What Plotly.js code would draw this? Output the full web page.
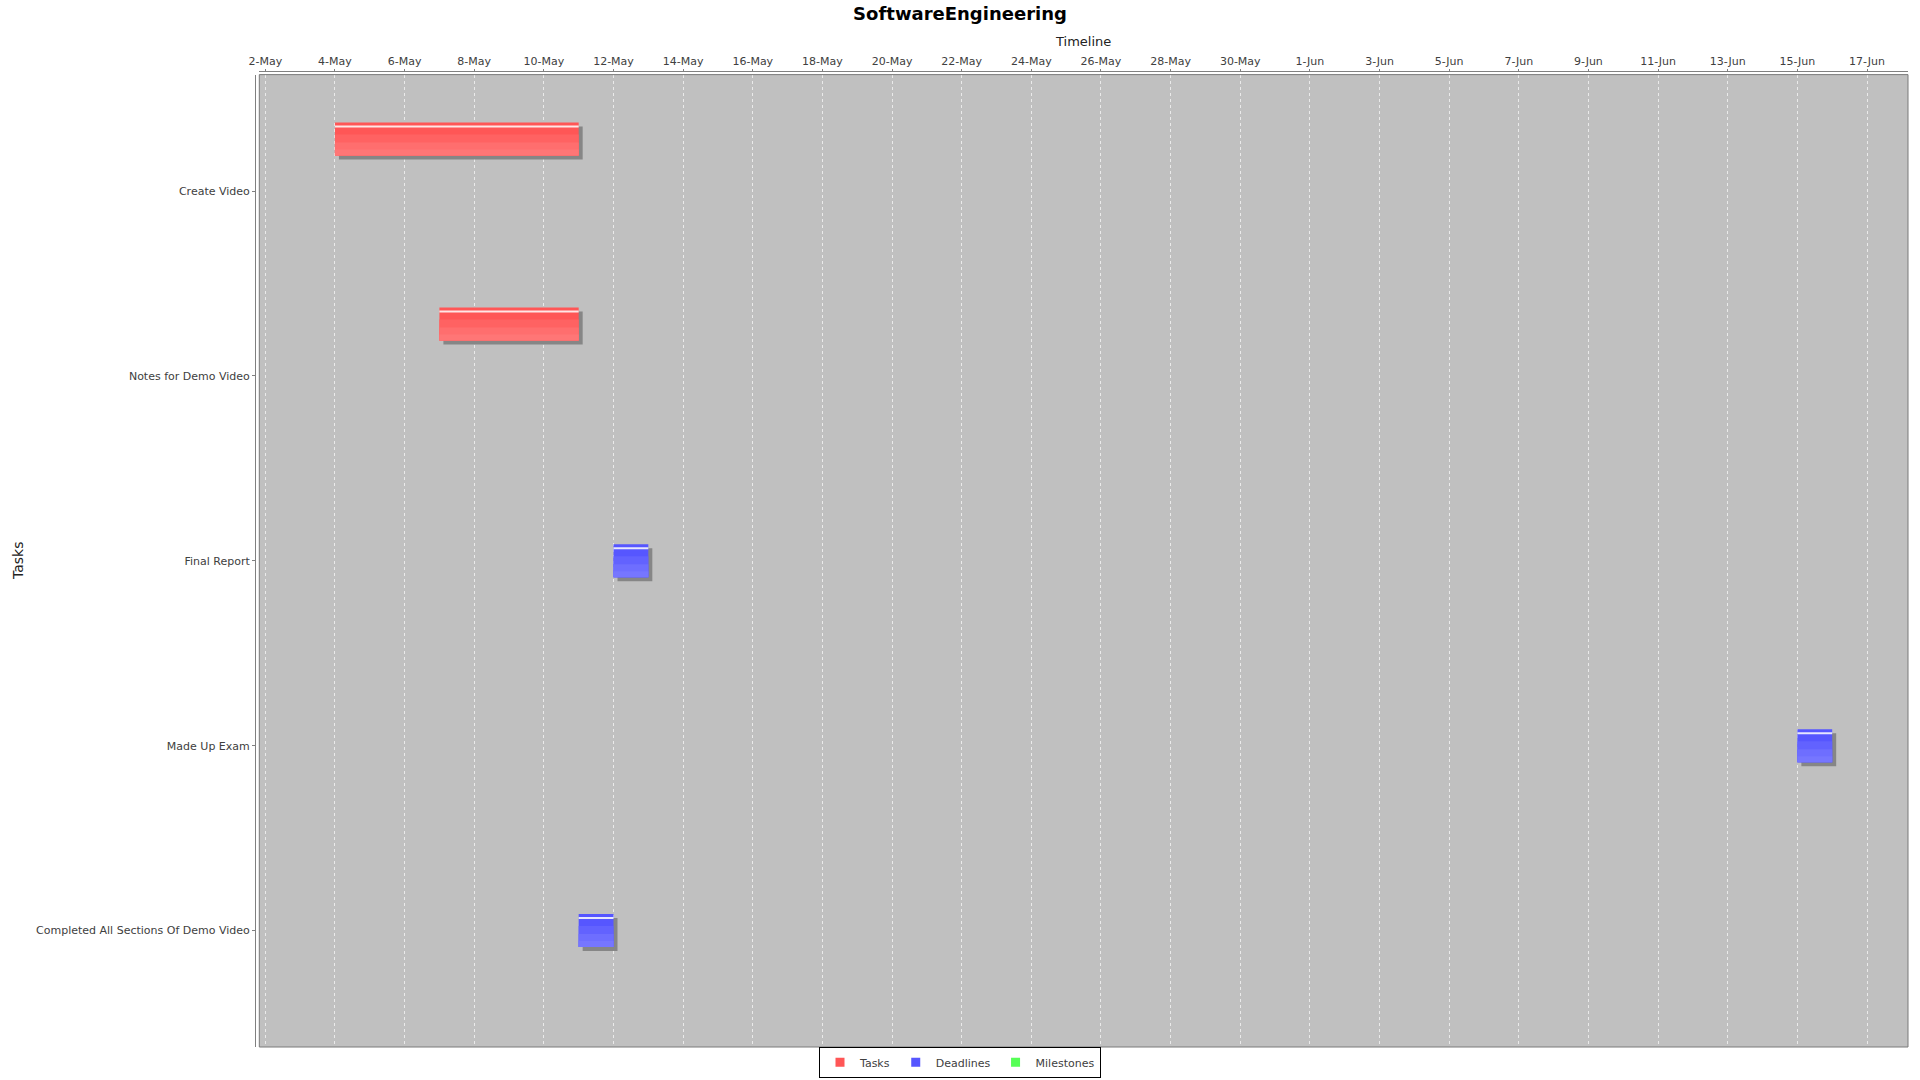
<!DOCTYPE html>
<html>
<head>
<meta charset="utf-8">
<script src="https://cdn.plot.ly/plotly-3.0.1.min.js"></script>
<style>
  html, body { margin: 0; padding: 0; background: #ffffff; }
  #chart { width: 1920px; height: 1080px; }
</style>
</head>
<body>
<div id="chart"></div>
<script>
// ---------------- DATA ----------------
const chartTitle = 'SoftwareEngineering';
const categories = ['Create Video', 'Notes for Demo Video', 'Final Report', 'Made Up Exam', 'Completed All Sections Of Demo Video'];

const taskNames = ['Create Video', 'Notes for Demo Video'];
const taskStart = ['2021-05-04', '2021-05-07'];
const taskEnd   = ['2021-05-11', '2021-05-11'];

const deadlineNames = ['Final Report', 'Made Up Exam', 'Completed All Sections Of Demo Video'];
const deadlineStart = ['2021-05-12', '2021-06-15', '2021-05-11'];
const deadlineEnd   = ['2021-05-13', '2021-06-16', '2021-05-12'];

const milestoneNames = [];
const milestoneStart = [];
const milestoneEnd   = [];

const seriesNames = ['Tasks', 'Deadlines', 'Milestones'];
const xTitle = 'Timeline';
const yTitle = 'Tasks';
const firstTick = '2021-05-02';
const lastTick  = '2021-06-17';

// ---------------- STYLE ----------------
const DAY = 86400000;
const PX_Y = 1 / 184.9;          // category units per pixel
const PX_X = DAY / 34.83;        // ms per pixel
const BAR_H = 33;                // px
const SHADOW = 4;                // px
const FONT = 'DejaVu Sans';
const ML = 255, MR = 12, MT = 71, MB = 33;
const PLOT_W = 1920 - ML - MR, PLOT_H = 1080 - MT - MB;
const toMs = s => Date.parse(s + 'T00:00:00Z');
const dur = (s, e) => s.map((v, i) => toMs(e[i]) - toMs(v));

const R0 = toMs(firstTick) - 6 * PX_X;
const R1 = toMs(lastTick) + 41 * PX_X;

const series = [
  {name: seriesNames[0], y: taskNames, s: taskStart, e: taskEnd, centre: -52,
   cols: ['#FF5656', '#FF6262', '#FF6E6E', '#FF7676']},
  {name: seriesNames[1], y: deadlineNames, s: deadlineStart, e: deadlineEnd, centre: 0,
   cols: ['#5656FF', '#6262FF', '#6E6EFF', '#7676FF']},
  {name: seriesNames[2], y: milestoneNames, s: milestoneStart, e: milestoneEnd, centre: 52,
   cols: ['#56FF56', '#62FF62', '#6EFF6E', '#76FF76']}
];

function barTrace(sr, axis, topPx, hPx, color) {
  const top = (sr.centre - BAR_H / 2 + topPx) * PX_Y;
  return {
    type: 'bar', orientation: 'h', name: sr.name,
    y: sr.y, base: sr.s, x: dur(sr.s, sr.e),
    xaxis: axis, yaxis: 'y',
    offset: top, width: hPx * PX_Y,
    marker: {color: color, line: {width: 0}},
    showlegend: false, hoverinfo: 'skip'
  };
}

const data = [];
// legend entries (one per series, no marks of their own)
series.forEach(sr => data.push({
  type: 'scatter', mode: 'markers', name: sr.name,
  x: [null], y: [null], xaxis: 'x2', yaxis: 'y',
  marker: {symbol: 'square', size: 9, color: sr.cols[0]},
  showlegend: true, hoverinfo: 'skip'
}));
// shadows (base axis, drawn below)
series.forEach(sr => data.push(barTrace(sr, 'x', SHADOW, BAR_H, '#868686')));
// main bars (overlay axis)
series.forEach(sr => data.push(barTrace(sr, 'x2', 0, BAR_H, sr.cols[0])));
// gradient bands and highlight
series.forEach(sr => {
  data.push(barTrace(sr, 'x2', 12, 21, sr.cols[1]));
  data.push(barTrace(sr, 'x2', 20, 13, sr.cols[2]));
  data.push(barTrace(sr, 'x2', 27, 6, sr.cols[3]));
  data.push(barTrace(sr, 'x2', 3, 2, 'rgba(255,255,255,0.85)'));
});

const layout = {
  width: 1920, height: 1080,
  paper_bgcolor: '#ffffff', plot_bgcolor: '#C0C0C0',
  margin: {l: ML, r: MR, t: MT, b: MB, pad: 0, autoexpand: false},
  barmode: 'overlay',
  font: {family: FONT, size: 11, color: '#404040'},
  title: {text: '<b>' + chartTitle + '</b>', x: 0.5, xanchor: 'center', y: 1 - 14 / 1080, yanchor: 'middle',
          font: {family: FONT, size: 18, color: '#000000'}},
  xaxis: {
    type: 'date', domain: [0.0026, 1], anchor: 'y',
    range: [R0 - SHADOW * PX_X, R1 - SHADOW * PX_X],
    visible: false, fixedrange: true
  },
  xaxis2: {
    type: 'date', overlaying: 'x', side: 'top', anchor: 'free', position: 1,
    range: [R0, R1],
    tickmode: 'linear', tick0: firstTick, dtick: 2 * DAY, tickformat: '%-d-%b',
    ticks: 'outside', ticklen: 2, tickcolor: '#808080', tickwidth: 1,
    showline: true, linecolor: '#808080', linewidth: 1,
    showgrid: true, gridcolor: '#EAEAEA', gridwidth: 1, griddash: '3px,3px',
    zeroline: false,
    tickfont: {family: FONT, size: 11, color: '#404040'},
    title: {text: xTitle, standoff: 4, font: {family: FONT, size: 13, color: '#222222'}},
    automargin: false, fixedrange: true
  },
  yaxis: {
    type: 'category', categoryorder: 'array', categoryarray: categories,
    domain: [0, 0.9963], anchor: 'free', position: 0,
    range: [categories.length - 1 + 0.63, -0.63],
    ticks: 'outside', ticklen: 3, tickcolor: '#808080',
    showline: true, linecolor: '#808080', linewidth: 1,
    showgrid: false, zeroline: false,
    tickfont: {family: FONT, size: 11, color: '#404040'},
    automargin: false, fixedrange: true
  },
  annotations: [{
    text: yTitle, xref: 'paper', yref: 'paper',
    x: (18 - ML) / PLOT_W, y: (1080 - MB - 561) / PLOT_H,
    xanchor: 'center', yanchor: 'middle', textangle: -90, showarrow: false,
    font: {family: FONT, size: 14, color: '#222222'}
  }],
  shapes: [{
    type: 'rect', xref: 'x domain', yref: 'y domain', x0: 0, x1: 1, y0: 0, y1: 1,
    line: {color: '#7A7A7A', width: 1}, fillcolor: 'rgba(0,0,0,0)', layer: 'above'
  }],
  showlegend: true,
  legend: {
    orientation: 'h', xref: 'container', yref: 'container',
    x: 0.5, xanchor: 'center', y: 0.002, yanchor: 'bottom',
    bgcolor: '#ffffff', bordercolor: '#000000', borderwidth: 1,
    font: {family: FONT, size: 11, color: '#404040'},
    itemwidth: 30, tracegroupgap: 0, traceorder: 'normal'
  }
};

Plotly.newPlot('chart', data, layout, {displayModeBar: false, staticPlot: true});
</script>
</body>
</html>
